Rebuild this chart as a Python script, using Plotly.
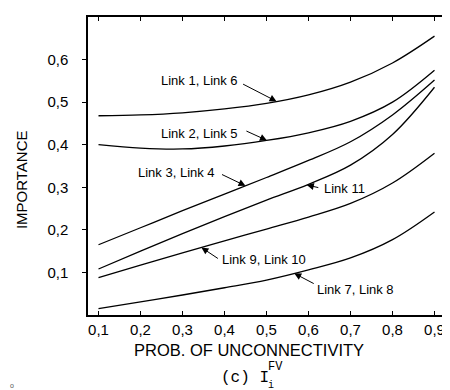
import numpy as np
import plotly.graph_objects as go

# ---- data ----
prob = [0.1, 0.2, 0.3, 0.4, 0.5, 0.6, 0.7, 0.8, 0.9]
link_1_6 = [0.468, 0.470, 0.475, 0.484, 0.497, 0.517, 0.547, 0.592, 0.655]
link_2_5 = [0.400, 0.392, 0.390, 0.397, 0.410, 0.428, 0.455, 0.500, 0.575]
link_3_4 = [0.165, 0.205, 0.245, 0.284, 0.323, 0.363, 0.407, 0.470, 0.552]
link_11 = [0.108, 0.150, 0.191, 0.231, 0.270, 0.307, 0.352, 0.424, 0.535]
link_9_10 = [0.088, 0.117, 0.146, 0.174, 0.202, 0.230, 0.262, 0.310, 0.380]
link_7_8 = [0.015, 0.031, 0.047, 0.064, 0.082, 0.106, 0.134, 0.177, 0.242]

series_names = ["Link 1, Link 6", "Link 2, Link 5", "Link 3, Link 4",
                "Link 11", "Link 9, Link 10", "Link 7, Link 8"]
series_vals = [link_1_6, link_2_5, link_3_4, link_11, link_9_10, link_7_8]
# x position along each curve where the label's arrow touches it
arrow_x = [0.524, 0.501, 0.45, 0.596, 0.345, 0.566]

x_ticks = [0.1, 0.2, 0.3, 0.4, 0.5, 0.6, 0.7, 0.8, 0.9]
x_ticktext = ["0,1", "0,2", "0,3", "0,4", "0,5", "0,6", "0,7", "0,8", "0,9"]
y_ticks = [0.1, 0.2, 0.3, 0.4, 0.5, 0.6]
y_ticktext = ["0,1", "0,2", "0,3", "0,4", "0,5", "0,6"]

# ---- layout geometry (pixels) ----
W, H = 450, 390
L, R, T, B = 80, 443, 9, 307

def px(xp, yp):
    return (xp - L) / (R - L), (B - yp) / (B - T)

fig = go.Figure()
for name, vals in zip(series_names, series_vals):
    fig.add_trace(go.Scatter(x=prob, y=vals, mode="lines", name=name,
                             line=dict(color="black", width=1.3, shape="spline", smoothing=1.0),
                             showlegend=False, hoverinfo="skip"))

label_font = dict(family="Liberation Sans, Arial, sans-serif", size=13, color="black")
# label text placement: (pixel x, pixel y, anchor)
label_pos = [(235, 72, "right"), (235, 125, "right"), (211, 164, "right"),
             (318, 180, "left"), (214, 251, "left"), (311, 281, "left")]
# arrow tail offsets in pixels relative to tip
arrow_off = [(-35, -18), (-22, -10), (-25, -12), (13, 3), (18, 12), (21, 11)]

annotations = []
for name, vals, axp, (lx, ly, anc), (ox, oy) in zip(series_names, series_vals, arrow_x, label_pos, arrow_off):
    fx, fy = px(lx, ly)
    annotations.append(dict(xref="paper", yref="paper", x=fx, y=fy, text=name,
                            showarrow=False, xanchor=anc, yanchor="middle", font=label_font))
    tip_y = float(np.interp(axp, prob, vals))
    annotations.append(dict(xref="x", yref="y", x=axp, y=tip_y, text="",
                            showarrow=True, ax=ox, ay=oy, arrowhead=2, arrowsize=1.4,
                            arrowwidth=1, arrowcolor="black", standoff=0))

axis_font = dict(family="Liberation Sans, Arial, sans-serif", size=16.5, color="black")
fx, fy = px(12, 172)
annotations.append(dict(xref="paper", yref="paper", x=fx, y=fy, text="IMPORTANCE", textangle=-90,
                        showarrow=False, xanchor="center", yanchor="middle",
                        font=dict(family=axis_font["family"], size=15, color="black")))
fx, fy = px(244, 342)
annotations.append(dict(xref="paper", yref="paper", x=fx, y=fy, text="PROB. OF UNCONNECTIVITY",
                        showarrow=False, xanchor="center", yanchor="middle", font=axis_font,
                        borderpad=0))
mono = dict(family="Liberation Mono, Courier New, monospace", size=16, color="black")
fx, fy = px(213, 370)
annotations.append(dict(xref="paper", yref="paper", x=fx, y=fy, text="(c) I",
                        showarrow=False, xanchor="left", yanchor="middle", font=mono))
fx, fy = px(262, 377)
annotations.append(dict(xref="paper", yref="paper", x=fx, y=fy, text="i",
                        showarrow=False, xanchor="left", yanchor="middle", borderpad=0,
                        font=dict(family=mono["family"], size=10, color="black")))
fx, fy = px(262, 359)
annotations.append(dict(xref="paper", yref="paper", x=fx, y=fy, text="FV",
                        showarrow=False, xanchor="left", yanchor="middle", borderpad=0,
                        font=dict(family=mono["family"], size=12, color="black")))
fx, fy = px(3, 377)
annotations.append(dict(xref="paper", yref="paper", x=fx, y=fy, text="o",
                        showarrow=False, xanchor="center", yanchor="middle",
                        font=dict(family="Liberation Sans", size=7, color="#555")))

tick_font = dict(family="Liberation Sans, Arial, sans-serif", size=15, color="black")
fig.update_layout(
    width=W, height=H,
    margin=dict(l=L, r=W - R, t=T, b=H - B),
    paper_bgcolor="white", plot_bgcolor="white",
    annotations=annotations,
    xaxis=dict(range=[0.075, 0.925], tickvals=x_ticks, ticktext=x_ticktext,
               showgrid=False, zeroline=False, showline=True, linecolor="black", linewidth=1.5,
               mirror="ticks", ticks="inside", ticklen=4, tickcolor="black", tickwidth=1,
               tickfont=tick_font),
    yaxis=dict(range=[0, 0.7], tickvals=y_ticks, ticktext=y_ticktext,
               showgrid=False, zeroline=False, showline=True, linecolor="black", linewidth=1.5,
               mirror="ticks", ticks="outside", ticklen=4, tickcolor="black", tickwidth=1,
               ticklabelstandoff=11, tickfont=tick_font),
)

fig.write_html("out.html")
